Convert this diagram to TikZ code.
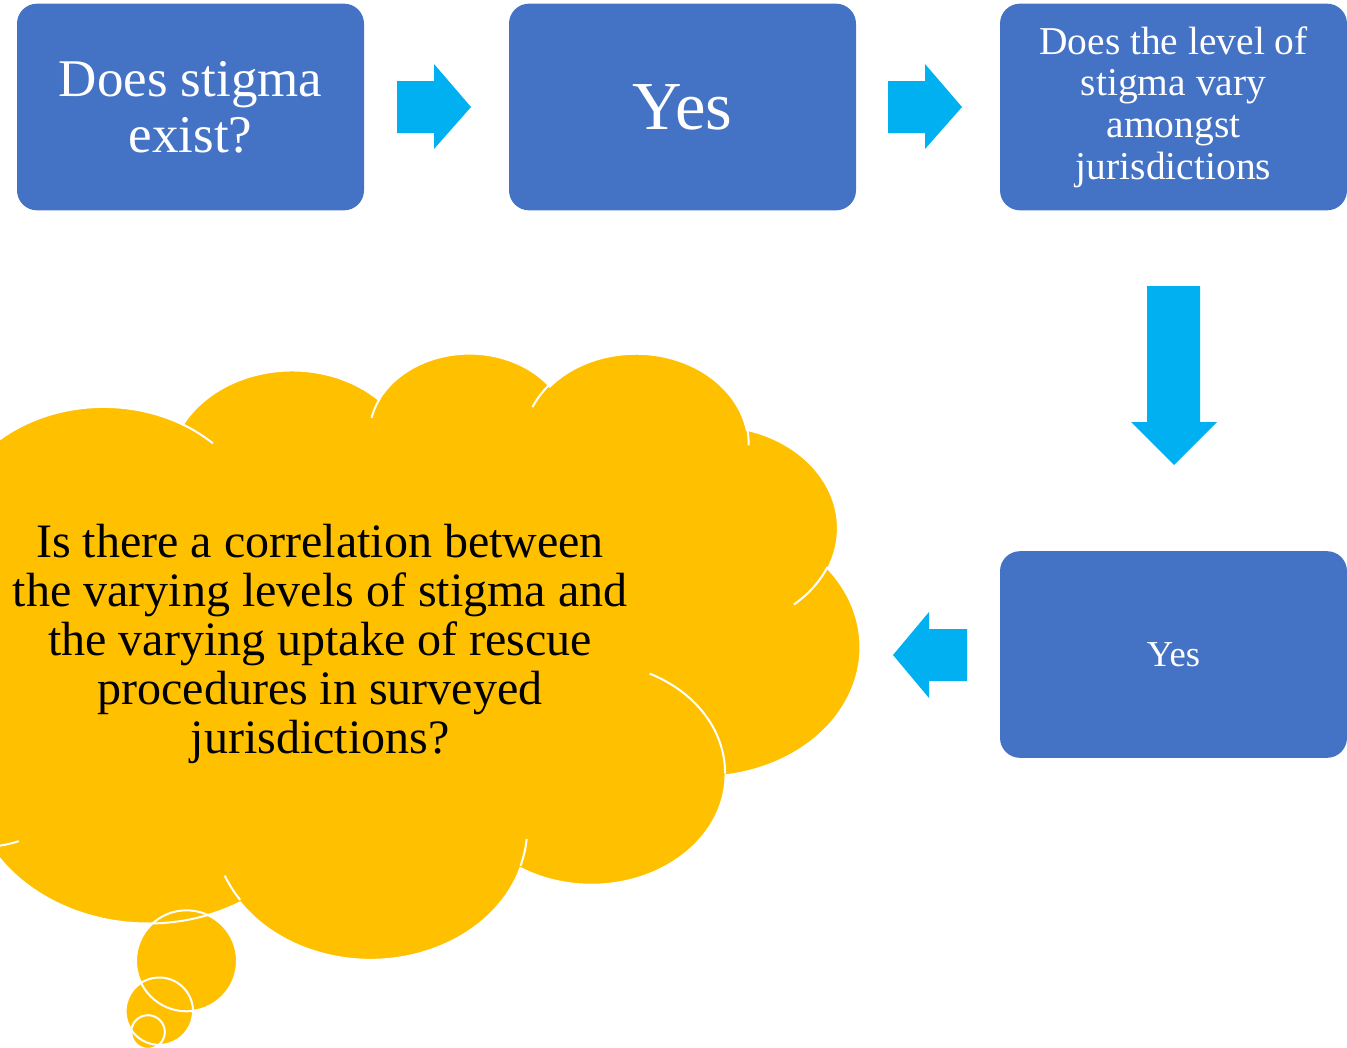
\documentclass[tikz,border=0pt]{standalone}
\usepackage{fontspec}
\setmainfont{Liberation Serif}

\definecolor{boxblue}{HTML}{4472C4}
\definecolor{arrowcyan}{HTML}{00B0F0}
\definecolor{cloudyellow}{HTML}{FFC000}

% visual angle -> ellipse parameter angle, kept on the same turn as the input
\newcommand\vang[3]{atan2((#1)*sin(#3),(#2)*cos(#3))+360*round(((#3)-atan2((#1)*sin(#3),(#2)*cos(#3)))/360)}
% elliptical arc: x radius, y radius, start angle, sweep (degrees, clockwise on screen)
\newcommand\carc[4]{arc[start angle={\vang{#1}{#2}{#3}}, end angle={\vang{#1}{#2}{(#3)+(#4)}}, x radius=#1, y radius=#2]}

% outline of the thought cloud, in a 4320 x 4320 frame
\newcommand\cloudoutline{(390,1437)
 \carc{675.3}{919.0}{-190.4875}{123.7805}
 \carc{533.3}{726.7}{-144.1024}{89.9452}
 \carc{436.5}{594.5}{-145.8079}{99.7230}
 \carc{485.7}{659.5}{-130.9861}{117.2417}
 \carc{533.3}{727.3}{-78.7089}{109.0269}
 \carc{677.5}{922.0}{-46.2673}{130.2690}
 \carc{578.5}{786.7}{0.6250}{114.0333}
 \carc{675.2}{921.5}{22.4516}{115.1726}
 \carc{772.0}{1054.3}{66.2426}{75.7110}
 \carc{436.0}{591.8}{-274.9421}{146.7356}
 \carc{434.5}{594.5}{-246.8285}{152.5189}
 -- cycle}

\begin{document}
\begin{tikzpicture}[x=0.75pt, y=-0.75pt,
  stepbox/.style={fill=boxblue, draw=none, rounded corners=15pt,
    minimum width=260.25pt, minimum height=155pt, inner sep=0pt,
    text=white, align=center},
  blockarrow/.style={fill=arrowcyan, draw=none},
  cloudfill/.style={fill=cloudyellow, draw=none},
  cloudline/.style={draw=white, line width=1.5pt}]

\useasboundingbox (0,0) rectangle (1347,1047);
\clip (0,0) rectangle (1347,1047);

% ---- question boxes ----
\node[stepbox, font=\fontsize{39.75pt}{42pt}\selectfont] (q1) at (190.5,107)
  {Does stigma\\exist?};
\node[stepbox, font=\fontsize{51.5pt}{54pt}\selectfont] (a1) at (682.5,107)
  {Yes};
\node[stepbox, font=\fontsize{29.6pt}{31.2pt}\selectfont] (q2) at (1173.5,107)
  {Does the level of\\stigma vary\\amongst\\jurisdictions};
\node[stepbox, font=\fontsize{27.4pt}{30pt}\selectfont] (a2) at (1173.5,654.5)
  {Yes};

% ---- block arrows ----
\fill[blockarrow] (397,81) -- (434,81) -- (434,64) -- (471,107) -- (434,149)
  -- (434,133) -- (397,133) -- cycle;
\fill[blockarrow] (888,81) -- (925,81) -- (925,64) -- (962,107) -- (925,149)
  -- (925,133) -- (888,133) -- cycle;
\fill[blockarrow] (1147,286) -- (1200,286) -- (1200,422) -- (1217,422)
  -- (1174,465) -- (1131,422) -- (1147,422) -- cycle;
\fill[blockarrow] (967,629) -- (929,629) -- (929,612) -- (893,655) -- (929,698)
  -- (929,681) -- (967,681) -- cycle;

% ---- thought cloud ----
\begin{scope}[shift={(-142,351.6)}, xscale=0.231944, yscale=0.140278]
  \fill[cloudfill] \cloudoutline;
\end{scope}
\fill[cloudfill] (186.5,960.8) circle[radius=50.5];
\fill[cloudfill] (159.3,1011.2) circle[radius=33.7];
\fill[cloudfill] (148,1032) circle[radius=16.8];
\begin{scope}[shift={(-142,351.6)}, xscale=0.231944, yscale=0.140278]
  \draw[cloudline] \cloudoutline;
\end{scope}
\draw[cloudline] (186.5,960.8) circle[radius=50.5];
\draw[cloudline] (159.3,1011.2) circle[radius=33.7];
\draw[cloudline] (148,1032) circle[radius=16.8];

% inner fold lines of the cloud
\begin{scope}[shift={(-142,351.6)}, xscale=0.231944, yscale=0.140278]
  \draw[cloudline] (469.3,2617.7) \carc{434.5}{594.5}{86.742}{26.4295};
  \draw[cloudline] (692.8,3489.9) \carc{436.0}{591.8}{73.6105}{11.4475};
  \draw[cloudline] (1647.8,3909.0) \carc{675.2}{921.5}{137.6242}{14.0811};
  \draw[cloudline] (2882.7,3475.1) \carc{675.2}{921.5}{6.4533}{15.9984};
  \draw[cloudline] (3412.9,2295.4) \carc{578.5}{786.7}{-70.2924}{70.9174};
  \draw[cloudline] (4179.8,1535.4) \carc{533.3}{727.3}{30.3180}{27.7515};
  \draw[cloudline] (3832.4,542.6) \carc{485.7}{659.5}{-13.7443}{14.8589};
  \draw[cloudline] (2907.8,395.2) \carc{485.7}{659.5}{-149.1815}{18.1954};
  \draw[cloudline] (2214.1,472.0) \carc{436.5}{594.5}{-163.4943}{17.6864};
  \draw[cloudline] (1400.0,519.2) \carc{675.3}{919.0}{-66.7070}{12.3194};
  \draw[cloudline] (412.7,1578.9) \carc{675.3}{919.0}{157.6544}{11.8582};
\end{scope}

\node[align=center, text=black, inner sep=0pt,
      font=\fontsize{36pt}{36.8pt}\selectfont] (cloudtext) at (320,643.6)
  {Is there a correlation between\\the varying levels of stigma and\\the varying uptake of rescue\\procedures in surveyed\\jurisdictions?};
\end{tikzpicture}
\end{document}
